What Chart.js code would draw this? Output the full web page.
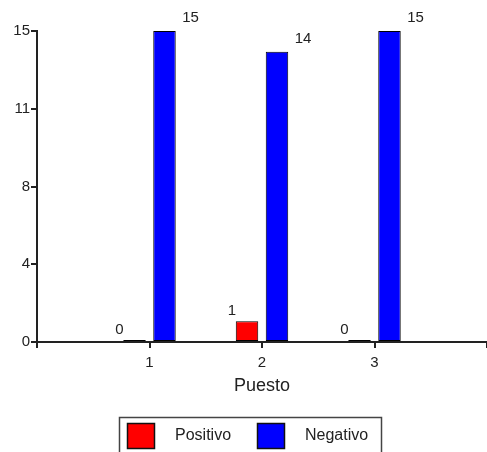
<!DOCTYPE html>
<html>
<head>
<meta charset="utf-8">
<script src="https://cdn.jsdelivr.net/npm/chart.js@4"></script>
<style>
  html, body { margin: 0; padding: 0; background: #fff; }
  #wrap { width: 487px; height: 452px; position: relative; }
</style>
</head>
<body>
<div id="wrap"><canvas id="c" width="487" height="452"></canvas></div>
<script>
// ---- data ----
const categories = [1, 2, 3];
const seriesNames = ['Positivo', 'Negativo'];
const positivo = [0, 1, 0];
const negativo = [15, 14, 15];
const yTickValues = [0, 3.75, 7.5, 11.25, 15];
const yTickLabels = ['0', '4', '8', '11', '15'];
const xTitle = 'Puesto';

const FONT = "'Liberation Sans', Arial, sans-serif";
const TXT = '#222';

const toPoints = (vals) => categories.map((c, i) => ({ x: c, y: vals[i] }));

const valueLabels = {
  id: 'valueLabels',
  afterDatasetsDraw(chart, args, opts) {
    const ctx = chart.ctx;
    ctx.save();
    ctx.font = '15px ' + FONT;
    ctx.fillStyle = TXT;
    ctx.textAlign = 'center';
    ctx.textBaseline = 'middle';
    chart.data.datasets.forEach((ds, di) => {
      const meta = chart.getDatasetMeta(di);
      const off = opts.offsets[di];
      meta.data.forEach((bar, i) => {
        const v = ds.data[i].y;
        const top = Math.min(bar.y, bar.base);
        ctx.fillText(String(v), bar.x + off.dx, top + off.dy);
      });
    });
    ctx.restore();
  }
};

const boxLegend = {
  id: 'boxLegend',
  afterDraw(chart, args, o) {
    const ctx = chart.ctx;
    ctx.save();
    ctx.strokeStyle = '#444';
    ctx.lineWidth = 1.5;
    ctx.strokeRect(o.x, o.y, o.w, o.h);
    ctx.font = '16px ' + FONT;
    ctx.textBaseline = 'middle';
    ctx.textAlign = 'left';
    chart.data.datasets.forEach((ds, i) => {
      const it = o.items[i];
      ctx.fillStyle = ds.backgroundColor;
      ctx.fillRect(it.bx, o.y + 6, 27, 25);
      ctx.strokeStyle = '#111';
      ctx.lineWidth = 1.5;
      ctx.strokeRect(it.bx, o.y + 6, 27, 25);
      ctx.fillStyle = TXT;
      ctx.fillText(ds.label, it.tx, o.y + 18);
    });
    ctx.restore();
  }
};

new Chart(document.getElementById('c'), {
  type: 'bar',
  data: {
    datasets: [
      { label: seriesNames[0], data: toPoints(positivo), backgroundColor: '#FF0000' },
      { label: seriesNames[1], data: toPoints(negativo), backgroundColor: '#0000FF' }
    ]
  },
  options: {
    responsive: false,
    animation: false,
    devicePixelRatio: 1,
    layout: { padding: { top: 31, right: 0, bottom: 55, left: 0 } },
    datasets: {
      bar: {
        borderColor: '#000',
        borderWidth: 1,
        borderSkipped: false,
        categoryPercentage: 0.533,
        barPercentage: 0.75,
        minBarLength: 2
      }
    },
    plugins: {
      legend: { display: false },
      tooltip: { enabled: false },
      valueLabels: { offsets: [{ dx: -15, dy: -10 }, { dx: 26, dy: -13 }] },
      boxLegend: {
        x: 119.5, y: 417.5, w: 262, h: 45,
        items: [{ bx: 127.5, tx: 175 }, { bx: 257.5, tx: 305 }]
      }
    },
    scales: {
      x: {
        type: 'linear',
        min: 0, max: 4,
        offset: false,
        afterFit: (s) => { s.height = 55; s.paddingLeft = 0; s.paddingRight = 0; },
        ticks: {
          stepSize: 1,
          padding: 6,
          color: TXT,
          font: { family: FONT, size: 15 },
          callback: (v) => categories.includes(v) ? String(v) : ''
        },
        grid: { offset: false, drawOnChartArea: false, drawTicks: true, tickLength: 6, color: '#222', lineWidth: 2 },
        border: { display: true, color: '#222', width: 2 },
        title: {
          display: true, text: xTitle, color: TXT,
          font: { family: FONT, size: 18 },
          padding: { top: 0, bottom: 0 }
        }
      },
      y: {
        min: 0, max: 15,
        afterFit: (s) => { s.width = 37; },
        afterBuildTicks: (s) => { s.ticks = yTickValues.map(v => ({ value: v })); },
        ticks: {
          padding: 1,
          color: TXT,
          font: { family: FONT, size: 15 },
          callback: (v) => yTickLabels[yTickValues.indexOf(v)]
        },
        grid: { drawOnChartArea: false, drawTicks: true, tickLength: 6, color: '#222', lineWidth: 2 },
        border: { display: true, color: '#222', width: 2 }
      }
    }
  },
  plugins: [valueLabels, boxLegend]
});
</script>
</body>
</html>
